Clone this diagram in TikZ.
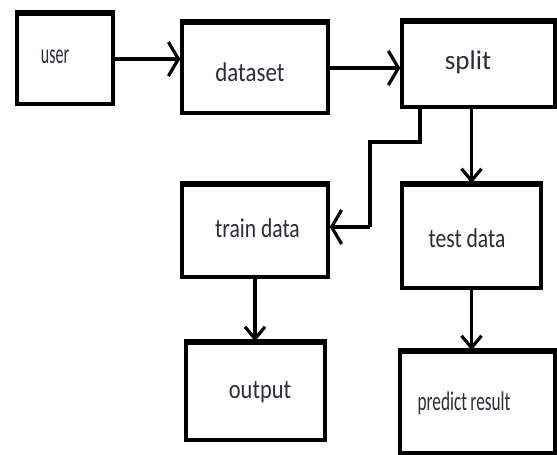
\documentclass[tikz,border=0pt]{standalone}
\usepackage{fontspec}
\setmainfont{Carlito}
\usetikzlibrary{arrows.meta}
\definecolor{txt}{HTML}{2B2B3A}
\tikzset{
  box/.style={draw=black, line width=3.5pt, rectangle, minimum width=#1, inner sep=0pt},
  lbl/.style={inner sep=0pt, text=txt, font=\fontsize{27}{31}\selectfont},
  harr/.style={line width=3.8pt, -{Straight Barb[length=10pt 0 0, width=34pt 0 0, line width=3.2pt]}},
  varr/.style={line width=3.2pt, -{Straight Barb[length=12pt 0 0, width=20pt 0 0, line width=3.2pt]}},
}
\begin{document}
\begin{tikzpicture}[x=1pt, y=-1pt]
\useasboundingbox (0,0) rectangle (557,455);
% boxes
\node[box=96pt, minimum height=90pt]  (user)    at (65,59) {};
\node[box=146pt, minimum height=90pt] (dataset) at (255,68) {};
\node[box=153pt, minimum height=85pt] (split)   at (478.5,64.5) {};
\node[box=146pt, minimum height=92pt] (train)   at (255,231) {};
\node[box=139pt, minimum height=103pt] (test)   at (471.5,236.5) {};
\node[box=139pt, minimum height=97pt] (output)  at (255.5,391.5) {};
\node[box=155pt, minimum height=101pt] (predict) at (477.5,402.5) {};
% thicker top edges
\foreach \b in {user,dataset,split,train,test,output,predict}
  \draw[line width=4.8pt] (\b.north west) -- (\b.north east);
% labels
\node[lbl, font=\fontsize{28}{32}\selectfont] (tuser) at (55,57) {\scalebox{0.57}[1]{user}};
\node[lbl] (tdataset) at (250,72)   {\scalebox{0.85}[1]{dataset}};
\node[lbl] (tsplit)   at (468,62)   {\scalebox{1.0}[1]{split}};
\node[lbl] (ttrain)   at (257.5,228) {\scalebox{0.8}[1]{train data}};
\node[lbl] (ttest)    at (467,238)  {\scalebox{0.8}[1]{test data}};
\node[lbl] (toutput)  at (260,392)  {\scalebox{0.83}[1]{output}};
\node[lbl] (tpredict) at (464,403)  {\scalebox{0.64}[1]{predict\kern-1pt\ result}};
% connectors
\coordinate (s1) at (420,107);
\coordinate (b1) at (420,142);
\coordinate (b2) at (370,142);
\coordinate (b3) at (370,227);
\draw[harr] (user.east) -- (user.east -| dataset.west);
\draw[harr] (dataset.east) -- (dataset.east -| split.west);
\draw[line width=3.2pt] (s1) -- (b1) -- (b2) -- (b3);
\draw[harr, line width=3.2pt] (b3) -- (b3 -| train.east);
\draw[varr] (test.north |- split.south) -- (test.north);
\draw[varr] (train.south) -- (train.south |- output.north);
\draw[varr] (test.south) -- (test.south |- predict.north);
\end{tikzpicture}
\end{document}
